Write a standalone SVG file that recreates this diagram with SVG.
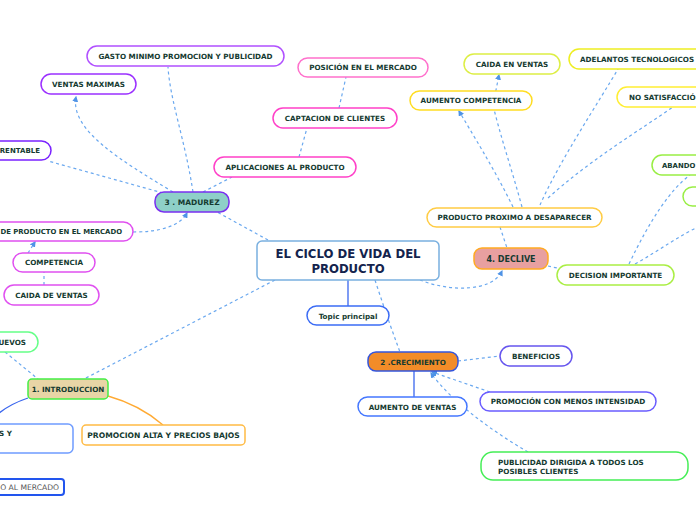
<svg xmlns="http://www.w3.org/2000/svg" width="696" height="520" viewBox="0 0 696 520">
<defs>
<marker id="arr" viewBox="0 0 10 10" refX="8" refY="5" markerWidth="5" markerHeight="5" orient="auto-start-reverse">
<path d="M0,0 L10,5 L0,10 z" fill="#4f93e6"/>
</marker>
<style>
.n rect{fill:#fff;stroke-width:1.5}
.t{font-family:"DejaVu Sans",Verdana,sans-serif;font-weight:bold;font-size:7.2px;fill:#143a30;text-anchor:middle}
.ts{text-anchor:start}
.te{text-anchor:end}
.c path{fill:none;stroke:#6aa8ef;stroke-width:1.2;stroke-dasharray:3 3}
.c path.s{stroke-dasharray:none;stroke-width:1.3}
.a{marker-end:url(#arr)}
</style>
</defs>
<rect width="696" height="520" fill="#fff"/>
<g class="c">
<path d="M268,240 L217,212"/>
<path d="M275,280 L84,379"/>
<path d="M375,280 Q388,320 400,352"/>
<path class="a" d="M420,280 C450,292 492,292 502,271"/>
<path class="a" d="M173,192 C120,160 70,130 76,97"/>
<path d="M193,192 C185,140 170,100 168,67"/>
<path d="M163,193 L48,161"/>
<path d="M203,192 L232,177"/>
<path class="a" d="M133,232 C160,232 180,226 187,213"/>
<path class="a" d="M28,253 L35,242"/>
<path d="M44,285 L44,272"/>
<path d="M299,157 L307,128"/>
<path d="M339,108 L346,77"/>
<path d="M5,352 L38,379"/>
<path class="s" d="M28,398 Q10,404 -2,414" style="stroke:#3a66ee"/>
<path class="s" d="M108,396 Q140,405 163,425" style="stroke:#ffaa33"/>
<path class="s" d="M348,280 L348,306" style="stroke:#3a66ee"/>
<path d="M458,361 L500,356"/>
<path class="s" d="M414,371 L414,397" style="stroke:#3a66ee"/>
<path class="a" d="M490,392 L432,372"/>
<path class="a" d="M528,452 C490,430 450,400 431,373"/>
<path d="M500,227 L507,248"/>
<path d="M548,266 L557,268"/>
<path class="a" d="M513,207 C495,170 470,130 459,111"/>
<path class="a" d="M522,207 C512,170 500,135 493,105 L499,75"/>
<path d="M540,205 C560,160 600,100 618,69"/>
<path d="M548,198 C590,160 640,130 673,107"/>
<path d="M629,264 C650,220 670,190 690,175"/>
<path d="M635,264 C660,250 680,235 700,226"/>
</g>
<g id="central" class="n"><rect x="257" y="241" width="182" height="39" rx="5" style="stroke:#7ab0e0"/>
<text class="t" x="348" y="258" style="font-size:11.7px;fill:#13234d">EL CICLO DE VIDA DEL</text>
<text class="t" x="348" y="273" style="font-size:11.7px;fill:#13234d">PRODUCTO</text></g>
<g id="topic" class="n"><rect x="307" y="306" width="82" height="19" rx="9.5" style="stroke:#3b6cf5"/><text class="t" x="348" y="318.5">Topic principal</text></g>
<g id="madurez" class="n"><rect x="155" y="192" width="74" height="20" rx="9" style="fill:#8ed0c8;stroke:#7a2ff0"/><text class="t" x="192" y="205" style="font-size:7.5px">3 . MADUREZ</text></g>
<g id="gasto" class="n"><rect x="87" y="46" width="197" height="20" rx="10" style="stroke:#b050ff"/><text class="t" x="185.5" y="58.5">GASTO MINIMO PROMOCION Y PUBLICIDAD</text></g>
<g id="ventasmax" class="n"><rect x="41" y="74" width="95" height="20" rx="10" style="stroke:#9b30ff"/><text class="t" x="88.5" y="86.5">VENTAS MAXIMAS</text></g>
<g id="rentable" class="n"><rect x="-40" y="141" width="91" height="19" rx="9.5" style="stroke:#7a22ff"/><text class="t te" x="40" y="153" style="font-size:7px">RENTABLE</text></g>
<g id="deproducto" class="n"><rect x="-80" y="222" width="213" height="19" rx="9.5" style="stroke:#e050f0"/><text class="t te" x="122" y="234" style="font-size:6.9px">DE PRODUCTO EN EL MERCADO</text></g>
<g id="competencia" class="n"><rect x="13" y="253" width="82" height="19" rx="9.5" style="stroke:#e050f0"/><text class="t" x="54" y="265">COMPETENCIA</text></g>
<g id="caidaventas" class="n"><rect x="4" y="285" width="95" height="20" rx="10" style="stroke:#e050f0"/><text class="t" x="51.5" y="297.5">CAIDA DE VENTAS</text></g>
<g id="aplicaciones" class="n"><rect x="214" y="157" width="142" height="20" rx="10" style="stroke:#ff40c8"/><text class="t" x="285" y="169.5">APLICACIONES AL PRODUCTO</text></g>
<g id="captacion" class="n"><rect x="273" y="108" width="124" height="20" rx="10" style="stroke:#ff40c8"/><text class="t" x="335" y="120.5">CAPTACION DE CLIENTES</text></g>
<g id="posicion" class="n"><rect x="298" y="58" width="130" height="19" rx="9.5" style="stroke:#ff70cc"/><text class="t" x="363" y="70">POSICIÓN EN EL MERCADO</text></g>
<g id="introduccion" class="n"><rect x="28" y="379" width="80" height="20" rx="4" style="fill:#e8d5a6;stroke:#44ee44"/><text class="t" x="68" y="391.5">1. INTRODUCCION</text></g>
<g id="uevos" class="n"><rect x="-40" y="332" width="78" height="20" rx="10" style="stroke:#66ff88"/><text class="t te" x="26" y="344.5">UEVOS</text></g>
<g id="sy" class="n"><rect x="-60" y="424" width="133" height="29" rx="5" style="stroke:#6f9cff"/><text class="t te" x="12" y="436">S Y</text></g>
<g id="promoalta" class="n"><rect x="82" y="425" width="163" height="20" rx="4" style="stroke:#ffbb44"/><text class="t" x="163.5" y="437.5" style="font-size:7.6px">PROMOCION ALTA Y PRECIOS BAJOS</text></g>
<g id="almercado" class="n"><rect x="-40" y="479" width="104" height="16" rx="3" style="stroke:#2255ee;stroke-width:2"/><text class="t te" x="59" y="490" style="font-weight:normal;fill:#555;font-size:7.6px">O AL MERCADO</text></g>
<g id="crecimiento" class="n"><rect x="368" y="352" width="90" height="19" rx="8" style="fill:#f28c28;stroke:#3355dd"/><text class="t" x="413" y="364.5">2 .CRECIMIENTO</text></g>
<g id="beneficios" class="n"><rect x="500" y="346" width="72" height="20" rx="10" style="stroke:#6655ee"/><text class="t" x="536" y="358.5">BENEFICIOS</text></g>
<g id="promomenos" class="n"><rect x="480" y="392" width="176" height="19" rx="9.5" style="stroke:#6a5cff"/><text class="t" x="568" y="404">PROMOCIÓN CON MENOS INTENSIDAD</text></g>
<g id="aumentoventas" class="n"><rect x="358" y="397" width="109" height="19" rx="9.5" style="stroke:#4477ff"/><text class="t" x="412.5" y="409.5">AUMENTO DE VENTAS</text></g>
<g id="publicidad" class="n"><rect x="481" y="452" width="207" height="28" rx="12" style="stroke:#44ee55"/><text class="t ts" x="498" y="465">PUBLICIDAD DIRIGIDA A TODOS LOS</text><text class="t ts" x="498" y="474">POSIBLES CLIENTES</text></g>
<g id="declive" class="n"><rect x="474" y="248" width="74" height="21" rx="8" style="fill:#e8a0a0;stroke:#ffaa22"/><text class="t" x="511" y="261.5" style="font-size:8px">4. DECLIVE</text></g>
<g id="proximo" class="n"><rect x="427" y="208" width="175" height="19" rx="9.5" style="stroke:#ffcc44"/><text class="t" x="514.5" y="220">PRODUCTO PROXIMO A DESAPARECER</text></g>
<g id="decision" class="n"><rect x="557" y="265" width="117" height="20" rx="10" style="stroke:#aaee44"/><text class="t" x="615.5" y="277.5">DECISION IMPORTANTE</text></g>
<g id="aumentocomp" class="n"><rect x="410" y="91" width="122" height="19" rx="9.5" style="stroke:#ffdd22"/><text class="t" x="471" y="103">AUMENTO COMPETENCIA</text></g>
<g id="caidaenventas" class="n"><rect x="464" y="54" width="96" height="20" rx="10" style="stroke:#ddee44"/><text class="t" x="512" y="66.5">CAIDA EN VENTAS</text></g>
<g id="adelantos" class="n"><rect x="569" y="49" width="140" height="20" rx="10" style="stroke:#eeee22"/><text class="t ts" x="580" y="61.5">ADELANTOS TECNOLOGICOS</text></g>
<g id="nosatisf" class="n"><rect x="617" y="87" width="120" height="20" rx="10" style="stroke:#ffee33"/><text class="t ts" x="629" y="99.5">NO SATISFACCIÓ</text></g>
<g id="abando" class="n"><rect x="652" y="155" width="80" height="20" rx="10" style="stroke:#99ee44"/><text class="t ts" x="662" y="167.5" style="font-size:6.9px">ABANDO</text></g>
<g id="green2" class="n"><rect x="683" y="187" width="60" height="19" rx="9.5" style="stroke:#99ee44"/></g>
</svg>
